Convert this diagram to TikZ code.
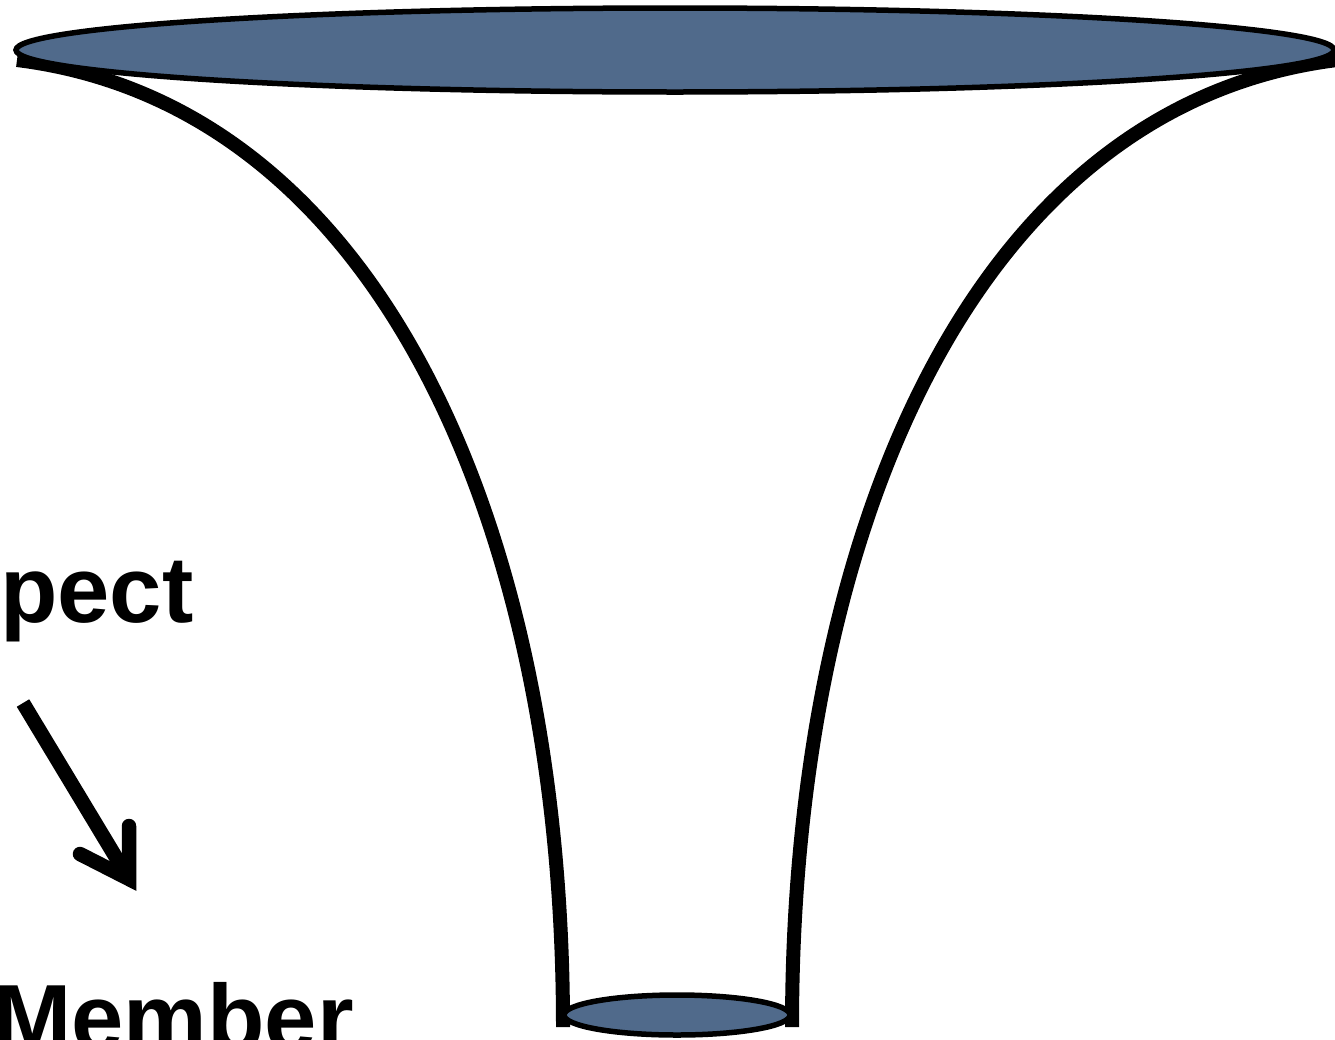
\documentclass[tikz,border=0pt]{standalone}
\usepackage{fontspec}
\setmainfont{Liberation Sans}
\usetikzlibrary{shapes.geometric,calc}
\begin{document}
\begin{tikzpicture}[x=1pt,y=-1pt,
  funnelline/.style={line width=14pt, line cap=butt, line join=round},
  disc/.style={draw=black, line width=5.5pt, fill=discblue},
  lbl/.style={inner sep=0pt, font=\fontsize{94}{100}\selectfont\bfseries},
  arrowline/.style={line width=14.5pt}]
\definecolor{discblue}{HTML}{506A8B}
\useasboundingbox (0,0) rectangle (1335,1039);
\clip (0,0) rectangle (1335,1039);
% funnel sides
\draw[funnelline] (17,60) .. controls (380,105) and (563,530) .. (563,1027);
\draw[funnelline] (1337,60) .. controls (974,105) and (792,530) .. (792,1027);
% openings
\node[disc, ellipse, minimum width=1318pt, minimum height=84pt, inner sep=0pt] (top) at (675,50) {};
\node[disc, ellipse, minimum width=226pt, minimum height=40pt, inner sep=0pt] (bottom) at (677,1015) {};
% labels
\node[lbl, anchor=base west] (pect) at (0,622) {pect};
\node[lbl, anchor=base west] (member) at (-7,1050) {Member};
% arrow
\coordinate (tail) at (23,703);
\coordinate (tip) at (129,879);
\draw[arrowline, line cap=butt] (tail) -- ($(tip)!6pt!(tail)$);
\draw[arrowline, line cap=round, line join=miter] (129,826) -- (tip) -- (80,854);
\end{tikzpicture}
\end{document}
